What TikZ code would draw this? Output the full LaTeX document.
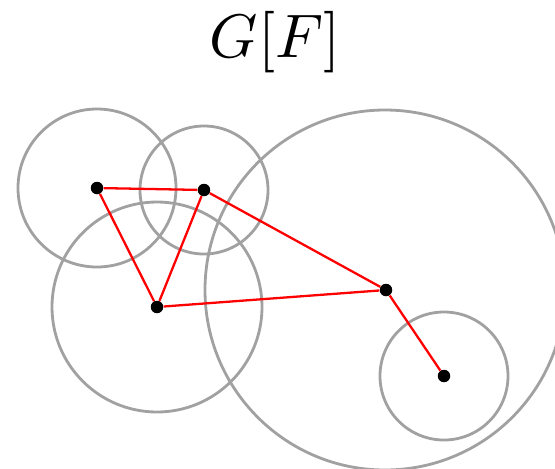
\documentclass[tikz,border=0pt]{standalone}
\begin{document}
\begin{tikzpicture}[x=0.02cm,y=-0.02cm]
\useasboundingbox (0,0) rectangle (555,468);
\tikzset{disk/.style={draw=black!37,line width=1.6pt},
  dot/.style={circle,fill=black,inner sep=0pt,minimum size=0.25cm},
  link/.style={red,line width=1.3pt}}

\node[scale=3.5] (title) at (275,42) {$G[F]$};

\begin{scope}
\clip (0,0) rectangle (555,468);
\draw[disk] (97,188) circle (79);
\draw[disk] (204,190) circle (64);
\draw[disk] (157,307) circle (105);
\draw[disk] (385,290) circle (180);
\draw[disk] (444,376) circle (64);
\end{scope}

\node[dot] (a) at (97,188) {};
\node[dot] (b) at (204,190) {};
\node[dot] (c) at (157,307) {};
\node[dot] (d) at (386,290) {};
\node[dot] (e) at (444,376) {};

\draw[link] (a) -- (b) -- (c) -- (a);
\draw[link] (b) -- (d) -- (c);
\draw[link] (d) -- (e);
\end{tikzpicture}
\end{document}
